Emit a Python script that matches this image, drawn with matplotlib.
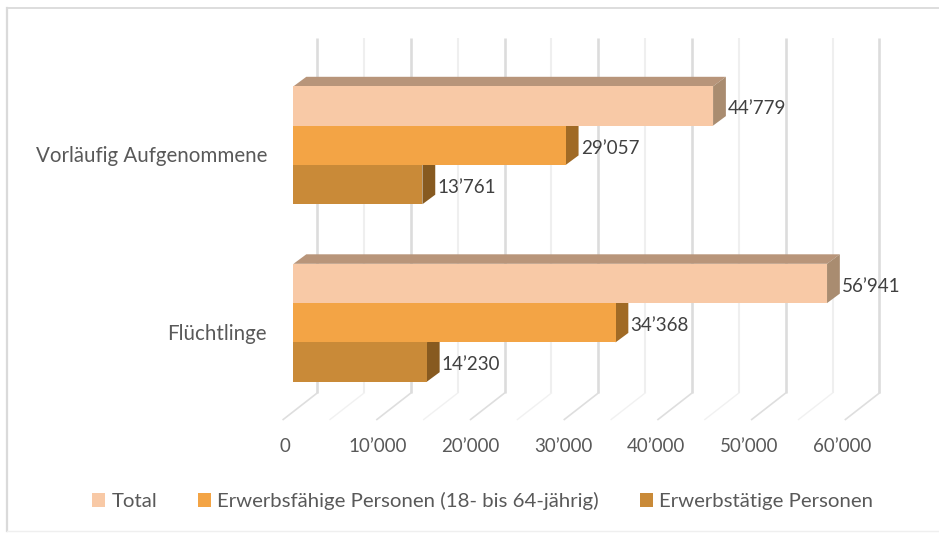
import matplotlib
matplotlib.use("Agg")
import matplotlib.pyplot as plt
from matplotlib.patches import Polygon, Patch

categories = ["Flüchtlinge", "Vorläufig Aufgenommene"]
series_names = ["Total", "Erwerbsfähige Personen (18- bis 64-jährig)", "Erwerbstätige Personen"]
total = [56941, 44779]
erwerbsfaehig = [34368, 29057]
erwerbstaetig = [14230, 13761]
axis_ticks = [0, 10000, 20000, 30000, 40000, 50000, 60000]
grid_minor = [5000, 15000, 25000, 35000, 45000, 55000]

front_colors = ["#F8C9A6", "#F3A445", "#C98A38"]
side_colors = ["#A98C70", "#A06A25", "#875A20"]
top_colors = ["#B8957A", "#B07A35", "#96682C"]
TEXT = "#595959"
LABEL = "#404040"
FONT = "Lato"

W, H = 939, 533
PX_PER_UNIT = 9.37 / 1000
X0_PX = 293.5
Y0_PX = 322.75
GROUP_PX = 177.5
BAR_PX = 39.3

fig = plt.figure(figsize=(W / 100, H / 100), dpi=100, facecolor="white")
ax = fig.add_axes([0, 0, 1, 1])
ax.set_xlim(-X0_PX / PX_PER_UNIT, (W - X0_PX) / PX_PER_UNIT)
ax.set_ylim((Y0_PX - H) / GROUP_PX, Y0_PX / GROUP_PX)
ax.axis("off")

def dxp(px):
    return px / PX_PER_UNIT
def yp(px):
    return (Y0_PX - px) / GROUP_PX
def xp(px):
    return (px - X0_PX) / PX_PER_UNIT

# frame
ax.plot([xp(7), xp(7)], [yp(8), yp(531)], color="#DADADA", lw=1.6, zorder=1)
ax.plot([xp(7), xp(939)], [yp(8), yp(8)], color="#DADADA", lw=1.3, zorder=1)
ax.plot([xp(7), xp(939)], [yp(531), yp(531)], color="#EFEFEF", lw=1.0, zorder=1)

# walls and floor
BACK = dxp(23.7)
for vals, col, floor_col, lw, floor_lw in [(axis_ticks, "#DCDCDC", "#DEDEDE", 1.9, 1.2),
                                           (grid_minor, "#EFEFEF", "#F1F1F1", 1.5, 1.0)]:
    for v in vals:
        x = v + BACK
        ax.plot([x, x], [yp(38), yp(393)], color=col, lw=lw, zorder=2, solid_capstyle="butt")
        ax.plot([x, x - dxp(34)], [yp(393), yp(419.5)], color=floor_col, lw=floor_lw, zorder=2)

# bars
DEPTH_X = dxp(12.8)
DEPTH_Y = 9.5 / GROUP_PX
h = BAR_PX / GROUP_PX
series = [total, erwerbsfaehig, erwerbstaetig]
for j in range(2, -1, -1):
    vals = series[j]
    for i, v in enumerate(vals):
        yc = i + (1 - j) * h
        z = 5 + (2 - j)
        ax.add_patch(Polygon([(0, yc + h / 2), (DEPTH_X, yc + h / 2 + DEPTH_Y),
                              (v + DEPTH_X, yc + h / 2 + DEPTH_Y), (v, yc + h / 2)],
                             fc=top_colors[j], ec="none", zorder=z))
        ax.add_patch(Polygon([(v, yc - h / 2), (v + DEPTH_X, yc - h / 2 + DEPTH_Y),
                              (v + DEPTH_X, yc + h / 2 + DEPTH_Y), (v, yc + h / 2)],
                             fc=side_colors[j], ec="none", zorder=z))
        ax.barh(yc, v, height=h, color=front_colors[j], edgecolor="none", zorder=z + 0.5)
        txt = f"{v:,}".replace(",", "’")
        ax.text(v + dxp(15), yc - 2.8 / GROUP_PX, txt, ha="left", va="center",
                fontsize=13.5, color=LABEL, family=FONT, zorder=10)

# category labels
for i, c in enumerate(categories):
    ax.text(xp(267), i - 11 / GROUP_PX, c, ha="right", va="center",
            fontsize=14.8, color=TEXT, family=FONT)

# value axis labels
for v in axis_ticks:
    x = xp(285) + v * 9.283 / 9.37
    ax.text(x, yp(447), f"{v:,}".replace(",", "’"), ha="center", va="center",
            fontsize=13.5, color=TEXT, family=FONT)

# legend
handles = [Patch(fc=c, ec="none") for c in front_colors]
ax.legend(handles, series_names, ncols=3, loc="center", bbox_to_anchor=(482.5 / W, 1 - 501 / H),
          frameon=False, labelcolor=TEXT, prop={"family": FONT, "size": 14.7},
          handlelength=0.65, handleheight=0.65, handletextpad=0.3, columnspacing=2.0)

fig.savefig("out.png", dpi=100, facecolor="white")
